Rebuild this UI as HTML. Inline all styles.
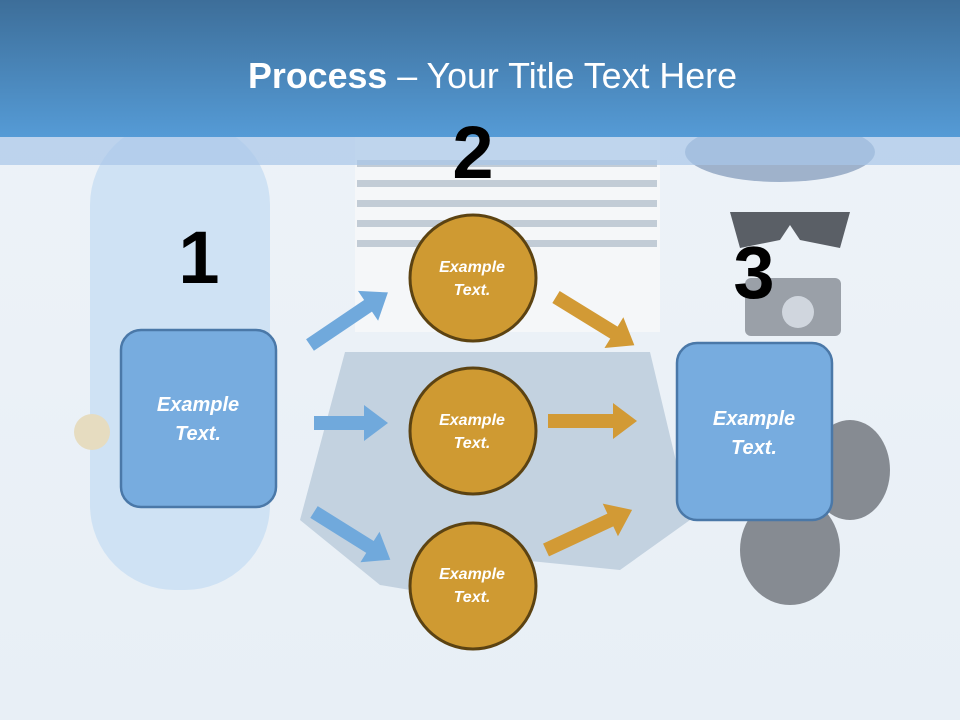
<!DOCTYPE html>
<html><head><meta charset="utf-8"><style>
html,body{margin:0;padding:0;}
body{width:960px;height:720px;overflow:hidden;font-family:"Liberation Sans",sans-serif;}
</style></head><body>
<svg width="960" height="720" viewBox="0 0 960 720" xmlns="http://www.w3.org/2000/svg">
<defs>
<linearGradient id="hd" x1="0" y1="0" x2="0" y2="1">
<stop offset="0" stop-color="#3d6e99"/><stop offset="1" stop-color="#559bd6"/></linearGradient>
<linearGradient id="bg" x1="0" y1="0" x2="0" y2="1">
<stop offset="0" stop-color="#eef3f8"/><stop offset="1" stop-color="#e8eff6"/></linearGradient>
</defs>
<rect width="960" height="720" fill="url(#bg)"/>
<!-- skateboard -->
<rect x="90" y="120" width="180" height="470" rx="85" fill="#cfe2f4"/>
<circle cx="92" cy="432" r="18" fill="#e6dcc0"/>
<!-- shirt -->
<rect x="355" y="137" width="305" height="195" fill="#f5f7f9"/>
<g fill="#c2ccd6">
<rect x="357" y="160" width="300" height="7"/><rect x="357" y="180" width="300" height="7"/>
<rect x="357" y="200" width="300" height="7"/><rect x="357" y="220" width="300" height="7"/>
<rect x="357" y="240" width="300" height="7"/></g>
<!-- shorts -->
<path d="M345 352 L650 352 L690 520 L620 570 L520 560 L470 600 L380 585 L300 520 Z" fill="#c3d2e0"/>
<!-- hat -->
<ellipse cx="780" cy="152" rx="95" ry="30" fill="#9fb2cb"/>
<!-- glasses -->
<path d="M730 212 L850 212 L840 248 L800 240 L790 225 L780 240 L740 248 Z" fill="#5a5f66"/>
<!-- camera -->
<rect x="745" y="278" width="96" height="58" rx="6" fill="#9aa0a8"/>
<circle cx="798" cy="312" r="16" fill="#d0d6de"/>
<!-- shoes -->
<ellipse cx="790" cy="550" rx="50" ry="55" fill="#868b92"/>
<ellipse cx="850" cy="470" rx="40" ry="50" fill="#868b92"/>
<!-- header -->
<rect width="960" height="137" fill="url(#hd)"/>
<rect y="137" width="960" height="28" fill="#a8c6e8" opacity="0.7"/>
<text x="248" y="88" textLength="489" lengthAdjust="spacingAndGlyphs" font-size="36" fill="#fff" font-family="Liberation Sans, sans-serif"><tspan font-weight="bold">Process</tspan> – Your Title Text Here</text>
<!-- numbers -->
<g font-weight="bold" font-size="74" fill="#000" text-anchor="middle" font-family="Liberation Sans, sans-serif">
<text x="199" y="283">1</text><text x="473" y="178">2</text><text x="754" y="298">3</text></g>
<!-- arrows -->
<g fill="#70a9dc">
<g transform="translate(310,345) rotate(-34)"><polygon points="0,-7 70,-7 70,-18 94,0 70,18 70,7 0,7"/></g>
<g transform="translate(314,423)"><polygon points="0,-7 50,-7 50,-18 74,0 50,18 50,7 0,7"/></g>
<g transform="translate(314,512) rotate(32)"><polygon points="0,-7 66,-7 66,-18 90,0 66,18 66,7 0,7"/></g>
</g>
<g fill="#d29a35">
<g transform="translate(556,297) rotate(31.6)"><polygon points="0,-7 68,-7 68,-18 92,0 68,18 68,7 0,7"/></g>
<g transform="translate(548,421)"><polygon points="0,-7 65,-7 65,-18 89,0 65,18 65,7 0,7"/></g>
<g transform="translate(546,550) rotate(-25)"><polygon points="0,-7 71,-7 71,-18 95,0 71,18 71,7 0,7"/></g>
</g>
<!-- boxes -->
<rect x="121" y="330" width="155" height="177" rx="20" fill="#77acdf" stroke="#4a78a8" stroke-width="2.5"/>
<rect x="677" y="343" width="155" height="177" rx="20" fill="#77acdf" stroke="#4a78a8" stroke-width="2.5"/>
<g font-weight="bold" font-style="italic" font-size="20" fill="#fff" text-anchor="middle" font-family="Liberation Sans, sans-serif">
<text x="198" y="411">Example</text><text x="198" y="440">Text.</text>
<text x="754" y="425">Example</text><text x="754" y="454">Text.</text>
</g>
<!-- circles -->
<g fill="#cf9a32" stroke="#5c4312" stroke-width="3">
<circle cx="473" cy="278" r="63"/><circle cx="473" cy="431" r="63"/><circle cx="473" cy="586" r="63"/></g>
<g font-weight="bold" font-style="italic" font-size="16" fill="#fff" text-anchor="middle" font-family="Liberation Sans, sans-serif">
<text x="472" y="272">Example</text><text x="472" y="295">Text.</text>
<text x="472" y="425">Example</text><text x="472" y="448">Text.</text>
<text x="472" y="579">Example</text><text x="472" y="602">Text.</text>
</g>
</svg>
</body></html>
